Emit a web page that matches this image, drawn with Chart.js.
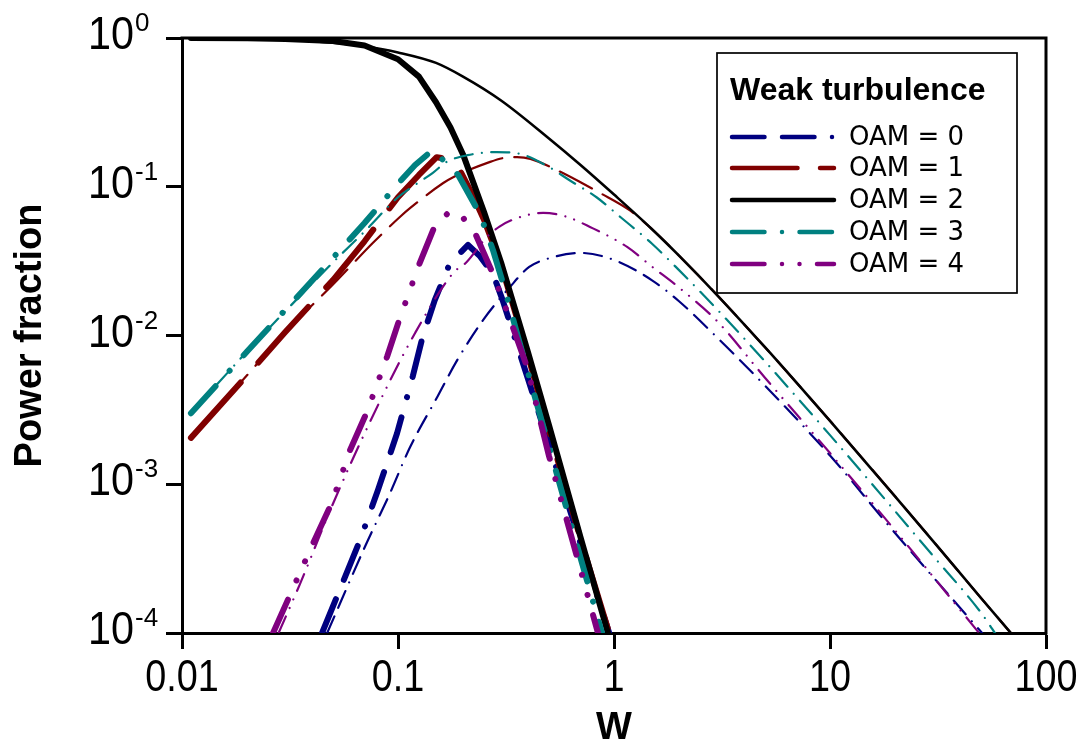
<!DOCTYPE html>
<html><head><meta charset="utf-8">
<script src="https://cdn.jsdelivr.net/npm/chart.js@4.4.1/dist/chart.umd.min.js"></script>
<style>html,body{margin:0;padding:0;background:#fff;} #wrap{width:1080px;height:754px;}</style>
</head><body><div id="wrap"><canvas id="c" width="1080" height="754"></canvas></div>
<script>
// ---------- data ----------
const oamLabels = ['OAM = 0', 'OAM = 1', 'OAM = 2', 'OAM = 3', 'OAM = 4'];
const legendTitle = 'Weak turbulence';
const xTickValues = [0.01, 0.1, 1, 10, 100];
const xTickLabels = ['0.01', '0.1', '1', '10', '100'];
const yTickValues = [1, 0.1, 0.01, 0.001, 0.0001];
const yTickBase = ['10', '10', '10', '10', '10'];
const yTickExp = ['0', '-1', '-2', '-3', '-4'];

// thin (broad) curves
const thinX0 = [0.047, 0.0703, 0.0918, 0.1138, 0.152, 0.1877, 0.2476, 0.33, 0.405, 0.5, 0.7, 1.0, 1.5, 2, 3, 5, 10, 20, 50.6];
const thinY0 = [1e-4, 3.8e-4, 8.7e-4, 1.78e-3, 3.86e-3, 6.8e-3, 0.0127, 0.0212, 0.0289, 0.033, 0.0359, 0.0322, 0.0235, 0.017, 0.0097, 0.0046, 1.56e-3, 4.7e-4, 1e-4];
const thinX1 = [0.011, 0.02, 0.03, 0.05, 0.0766, 0.102, 0.114, 0.162, 0.18, 0.267, 0.307, 0.356, 0.41, 0.54, 0.71, 0.86, 1.19, 1.5, 2, 3, 5, 7, 10, 20, 30, 50, 70];
const thinY1 = [2.05e-3, 5.4e-3, 0.0105, 0.022, 0.042, 0.0626, 0.072, 0.106, 0.116, 0.147, 0.156, 0.158, 0.154, 0.13, 0.106, 0.091, 0.069, 0.0518, 0.0344, 0.0187, 0.00834, 0.00482, 0.00267, 8.3e-4, 4.15e-4, 1.72e-4, 9.7e-5];
const thinX2 = [0.011, 0.02, 0.03, 0.05, 0.07, 0.1, 0.15, 0.2, 0.3, 0.5, 0.7, 1, 1.5, 2, 3, 5, 7, 10, 20, 30, 50, 70];
const thinY2 = [1.0, 0.99, 0.975, 0.93, 0.88, 0.8, 0.68, 0.55, 0.38, 0.211, 0.14, 0.0886, 0.0518, 0.0344, 0.0187, 0.00834, 0.00482, 0.00267, 8.3e-4, 4.15e-4, 1.72e-4, 9.7e-5];
const thinX3 = [0.011, 0.02, 0.03, 0.05, 0.07, 0.1, 0.12, 0.145, 0.168, 0.21, 0.287, 0.356, 0.49, 0.62, 0.83, 1.07, 1.5, 2, 3, 5, 7, 10, 20, 30, 50, 60];
const thinY3 = [3.0e-3, 7.8e-3, 0.0145, 0.031, 0.05, 0.085, 0.103, 0.124, 0.147, 0.163, 0.171, 0.168, 0.138, 0.111, 0.085, 0.0626, 0.0414, 0.0275, 0.015, 0.0067, 0.00386, 0.00214, 6.6e-4, 3.3e-4, 1.37e-4, 9.3e-5];
const thinX4 = [0.028, 0.035, 0.05, 0.08, 0.12, 0.18, 0.208, 0.258, 0.295, 0.35, 0.47, 0.6, 0.774, 1.15, 1.5, 2, 3, 5, 10, 20, 49];
const thinY4 = [1e-4, 2.1e-4, 7.4e-4, 3.3e-3, 0.0104, 0.0263, 0.0312, 0.046, 0.054, 0.061, 0.0667, 0.063, 0.0537, 0.0394, 0.029, 0.021, 0.0125, 0.0052, 1.62e-3, 4.9e-4, 1e-4];

// thick (narrow) curves
const thickX0 = [0.0445, 0.0667, 0.0807, 0.099, 0.117, 0.13, 0.148, 0.174, 0.211, 0.24, 0.275, 0.305, 0.4, 0.5, 0.7, 0.95];
const thickY0 = [1e-4, 4.2e-4, 9.1e-4, 2.2e-3, 5.3e-3, 9.8e-3, 0.0173, 0.0307, 0.0406, 0.034, 0.026, 0.0173, 5.1e-3, 1.85e-3, 4.0e-4, 1e-4];
const thickX1 = [0.011, 0.02, 0.03, 0.05, 0.07, 0.085, 0.1, 0.125, 0.151, 0.18, 0.193, 0.22, 0.25, 0.3, 0.4, 0.5, 0.7, 0.95];
const thickY1 = [2.05e-3, 5.4e-3, 0.0105, 0.0236, 0.043, 0.0626, 0.085, 0.12, 0.158, 0.151, 0.13, 0.09, 0.06, 0.03, 7.3e-3, 2.3e-3, 4.3e-4, 1e-4];
const thickX2 = [0.011, 0.02, 0.03, 0.05, 0.07, 0.1, 0.125, 0.15, 0.175, 0.2, 0.25, 0.3, 0.4, 0.5, 0.7, 1.0];
const thickY2 = [1.0, 0.995, 0.985, 0.955, 0.89, 0.72, 0.55, 0.37, 0.25, 0.165, 0.068, 0.031, 0.0077, 0.0025, 4.4e-4, 7.2e-5];
const thickX3 = [0.011, 0.02, 0.03, 0.05, 0.07, 0.1, 0.12, 0.145, 0.19, 0.24, 0.275, 0.313, 0.4, 0.5, 0.7, 0.88];
const thickY3 = [3.0e-3, 7.8e-3, 0.0148, 0.0333, 0.057, 0.105, 0.14, 0.177, 0.12, 0.065, 0.0376, 0.0202, 5.6e-3, 1.8e-3, 3.2e-4, 1e-4];
const thickX4 = [0.0264, 0.0404, 0.0494, 0.06, 0.0718, 0.089, 0.102, 0.126, 0.148, 0.175, 0.2, 0.23, 0.275, 0.34, 0.395, 0.5, 0.7, 0.843];
const thickY4 = [1e-4, 4.0e-4, 7.5e-4, 1.7e-3, 3.06e-3, 7.2e-3, 0.0131, 0.0307, 0.0545, 0.069, 0.062, 0.047, 0.026, 0.0114, 6.2e-3, 1.55e-3, 2.67e-4, 1e-4];

// ---------- styles ----------
const oamColors = ['#000080', '#800000', '#000000', '#008080', '#800080'];
const dashBase = [[37, 13, 37, 13, 0, 13], [70, 18], [], [37, 13, 0, 13], [37, 13, 0, 13, 0, 13]];
const thinWidth = 2.2, thickWidth = 6, legendWidth = 4.5;
const thinScale = 0.55, thickScale = 1.15;

function dashFor(p, s, w) {
  return p.map((v, i) => i % 2 === 0 ? Math.max(v * s - w, 0.001) : v * s + w);
}
function pts(xs, ys) { return xs.map((x, i) => ({x: x, y: ys[i]})); }

const thinX = [thinX0, thinX1, thinX2, thinX3, thinX4];
const thinY = [thinY0, thinY1, thinY2, thinY3, thinY4];
const thickX = [thickX0, thickX1, thickX2, thickX3, thickX4];
const thickY = [thickY0, thickY1, thickY2, thickY3, thickY4];

const datasets = [];
let ord = 20;
for (let k = 0; k < 5; k++) {
  const wThin = k === 2 ? 2.6 : thinWidth;
  datasets.push({
    label: oamLabels[k] + ' (thin)', data: pts(thinX[k], thinY[k]),
    borderColor: oamColors[k], borderWidth: wThin,
    borderDash: dashFor(dashBase[k], thinScale, wThin),
    borderCapStyle: 'round', borderJoinStyle: 'round',
    pointRadius: 0, fill: false, cubicInterpolationMode: 'monotone', order: ord--
  });
  datasets.push({
    label: oamLabels[k] + ' (thick)', data: pts(thickX[k], thickY[k]),
    borderColor: oamColors[k], borderWidth: thickWidth,
    borderDash: dashFor(dashBase[k], thickScale, thickWidth),
    borderCapStyle: 'round', borderJoinStyle: 'round',
    pointRadius: 0, fill: false, tension: 0, order: ord--
  });
}

const FONT = '"Liberation Sans", Arial, sans-serif';

const framePlugin = {
  id: 'frame',
  afterDatasetsDraw(chart) {
    const {ctx, chartArea: a} = chart;
    ctx.save();
    ctx.strokeStyle = '#000'; ctx.lineWidth = 3; ctx.lineCap = 'square';
    ctx.beginPath();
    ctx.moveTo(a.left, a.top); ctx.lineTo(a.right, a.top); ctx.lineTo(a.right, a.bottom);
    ctx.stroke();
    ctx.restore();
  }
};

// tick labels (slightly condensed, as in the reference)
const tickLabelPlugin = {
  id: 'ticklabels',
  afterDraw(chart) {
    const {ctx} = chart;
    const ys = chart.scales.y, xs = chart.scales.x;
    ctx.save();
    ctx.fillStyle = '#000';
    ctx.textBaseline = 'alphabetic';
    yTickValues.forEach((v, i) => {
      const py = ys.getPixelForValue(v);
      ctx.save();
      ctx.translate(134, py + 11);
      ctx.scale(0.88, 1);
      ctx.font = '47px ' + FONT;
      ctx.textAlign = 'right';
      ctx.fillText(yTickBase[i], 0, 0);
      ctx.restore();
      ctx.font = '26px ' + FONT;
      ctx.textAlign = 'left';
      ctx.fillText(yTickExp[i], 135, py - 7);
    });
    xTickValues.forEach((v, i) => {
      const px = xs.getPixelForValue(v);
      ctx.save();
      ctx.translate(px, 691);
      ctx.scale(0.84, 1);
      ctx.font = '45px ' + FONT;
      ctx.textAlign = 'center';
      ctx.fillText(xTickLabels[i], 0, 0);
      ctx.restore();
    });
    ctx.restore();
  }
};

const legendPlugin = {
  id: 'boxlegend',
  afterDraw(chart) {
    const {ctx} = chart;
    const L = 717, T = 53, R = 1017, B = 293;
    ctx.save();
    ctx.fillStyle = '#fff';
    ctx.fillRect(L, T, R - L, B - T);
    ctx.strokeStyle = '#000'; ctx.lineWidth = 1.7;
    ctx.strokeRect(L, T, R - L, B - T);
    ctx.fillStyle = '#000';
    ctx.font = 'bold 32px ' + FONT;
    ctx.textAlign = 'left'; ctx.textBaseline = 'alphabetic';
    ctx.fillText(legendTitle, 730, 100);
    const rowY = [137, 168, 200, 232, 264];
    for (let k = 0; k < 5; k++) {
      ctx.beginPath();
      ctx.strokeStyle = oamColors[k];
      ctx.lineWidth = legendWidth;
      ctx.lineCap = 'round';
      ctx.setLineDash(dashFor(dashBase[k], 1, legendWidth));
      ctx.moveTo(732, rowY[k]); ctx.lineTo(834, rowY[k]);
      ctx.stroke();
      ctx.setLineDash([]);
      ctx.fillStyle = '#000';
      ctx.font = '26px "DejaVu Sans", sans-serif';
      ctx.textBaseline = 'middle';
      ctx.fillText(oamLabels[k], 849, rowY[k] + 1);
    }
    ctx.restore();
  }
};

new Chart(document.getElementById('c'), {
  type: 'line',
  data: {datasets: datasets},
  options: {
    responsive: false, animation: false, devicePixelRatio: 1,
    layout: {padding: {left: 0, right: 34, top: 38, bottom: 0}},
    plugins: {legend: {display: false}, tooltip: {enabled: false}},
    scales: {
      x: {
        type: 'logarithmic', position: 'bottom', min: 0.01, max: 100,
        afterBuildTicks: (s) => { s.ticks = xTickValues.map(v => ({value: v})); },
        afterFit: (s) => { s.height = 121; },
        ticks: {display: false},
        grid: {drawOnChartArea: false, drawTicks: true, tickLength: 16, tickWidth: 3, tickColor: '#000'},
        border: {display: true, width: 3, color: '#000'},
        title: {display: true, text: 'W', font: {family: FONT, size: 38, weight: 'bold'}, color: '#000', padding: {top: 0, bottom: 3}}
      },
      y: {
        type: 'logarithmic', position: 'left', min: 0.0001, max: 1,
        afterBuildTicks: (s) => { s.ticks = yTickValues.map(v => ({value: v})); },
        afterFit: (s) => { s.width = 182; },
        ticks: {display: false},
        grid: {drawOnChartArea: false, drawTicks: true, tickLength: 16, tickWidth: 3, tickColor: '#000'},
        border: {display: true, width: 3, color: '#000'},
        title: {display: true, text: 'Power fraction', font: {family: FONT, size: 38, weight: 'bold'}, color: '#000', padding: {top: 8, bottom: 0}}
      }
    }
  },
  plugins: [framePlugin, tickLabelPlugin, legendPlugin]
});
</script>
</body></html>
